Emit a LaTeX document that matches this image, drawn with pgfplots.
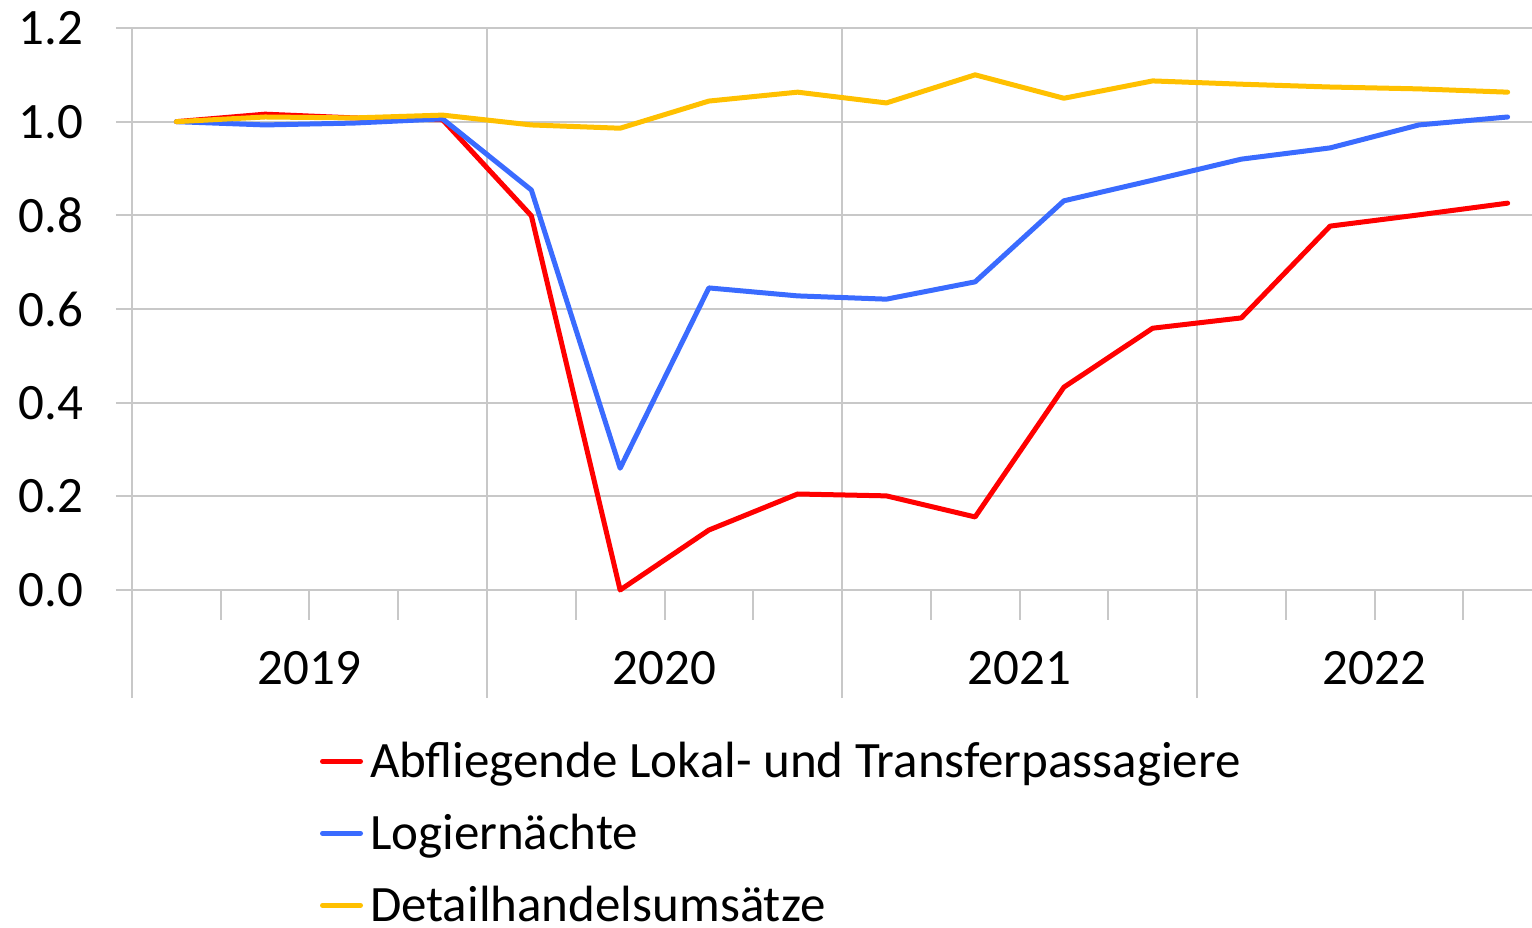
\documentclass[border=0pt]{standalone}
\usepackage{fontspec}
\setmainfont{Carlito}
\usepackage{pgfplots}
\usepackage{pgfplotstable}
\pgfplotsset{compat=1.18}
\definecolor{gridc}{HTML}{C8C8C8}
\definecolor{cred}{HTML}{FF0000}
\definecolor{cblue}{HTML}{3A6BFF}
\definecolor{cyellow}{HTML}{FFC000}
\newcommand{\cf}{\fontsize{25.5}{30}\selectfont}
\pgfplotstableread{
x red blue yellow
0.5 1.000 1.000 1.000
1.5 1.016 0.993 1.010
2.5 1.008 0.997 1.008
3.5 1.004 1.006 1.014
4.5 0.799 0.854 0.993
5.5 0.000 0.260 0.986
6.5 0.128 0.645 1.044
7.5 0.205 0.628 1.063
8.5 0.201 0.621 1.040
9.5 0.156 0.658 1.100
10.5 0.433 0.831 1.050
11.5 0.559 0.875 1.087
12.5 0.581 0.920 1.080
13.5 0.777 0.944 1.074
14.5 0.801 0.993 1.070
15.5 0.826 1.010 1.063
}\data
\begin{document}
\begin{tikzpicture}
\begin{axis}[
  scale only axis, width=700pt, height=335pt,
  xmin=0, xmax=15.7746, ymin=-0.2306, ymax=1.2,
  axis line style={draw=none},
  xtick={0,4,8,12}, xticklabels={,,,}, xmajorgrids,
  x tick style={draw=none},
  ytick={0,0.2,0.4,0.6,0.8,1.0,1.2},
  ymajorgrids, ytick pos=left, tick align=outside, major tick length=8pt,
  y tick style={gridc, line width=1pt},
  grid style={gridc, line width=1pt},
  yticklabel style={font=\cf, xshift=-13pt, /pgf/number format/.cd, fixed, fixed zerofill, precision=1, assume math mode=true},
  legend style={draw=none, fill=none, inner sep=0pt, outer sep=0pt,
    at={(axis description cs:0.1343,-0.0700)}, anchor=north west,
    font=\cf, row sep=19.5pt, column sep=3.5pt,
    nodes={inner sep=0pt, text height=16.5pt, text depth=0pt}},
  legend cell align=left,
  legend image code/.code={\draw[#1, line cap=round] (0pt,0pt) -- (19pt,0pt);},
  every axis plot/.append style={line width=2.5pt, line cap=round, line join=round},
]
\coordinate (bl) at (rel axis cs:0,0);
\coordinate (tr) at (rel axis cs:1,1);
\draw[gridc, line width=1pt] (axis cs:0,-0.2306) -- (axis cs:0,1.2);
\pgfplotsinvokeforeach{1,2,3,5,6,7,9,10,11,13,14,15}{
  \draw[gridc, line width=1pt] (axis cs:#1,0) -- (axis cs:#1,-0.064);
}
\node[font=\cf] at (axis cs:2,-0.166) {2019};
\node[font=\cf] at (axis cs:6,-0.166) {2020};
\node[font=\cf] at (axis cs:10,-0.166) {2021};
\node[font=\cf] at (axis cs:14,-0.166) {2022};
\addplot[cred] table[x=x, y=red] {\data};
\addplot[cblue] table[x=x, y=blue] {\data};
\addplot[cyellow] table[x=x, y=yellow] {\data};
\legend{Abfliegende Lokal- und Transferpassagiere, Logiernächte, Detailhandelsumsätze}
\end{axis}
\pgfresetboundingbox
\path[use as bounding box] ([xshift=-66pt, yshift=-114.5pt]bl) rectangle ([yshift=14pt]tr);
\end{tikzpicture}
\end{document}
